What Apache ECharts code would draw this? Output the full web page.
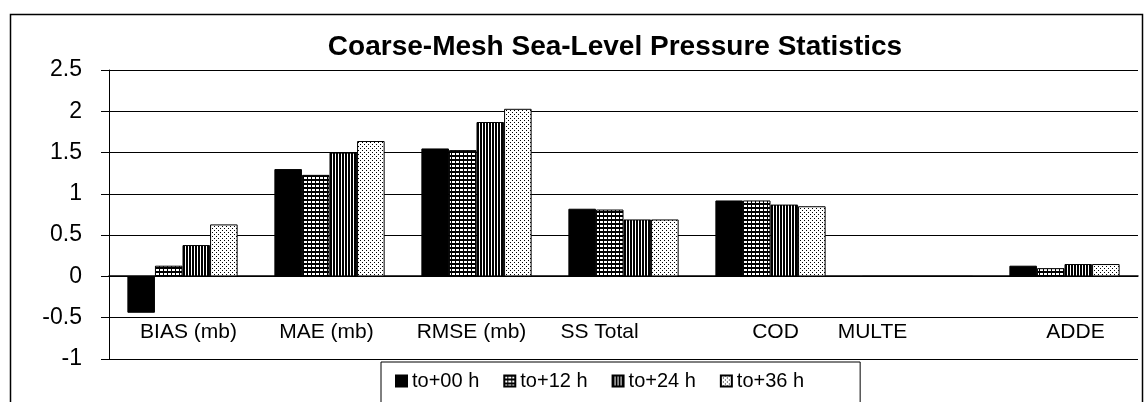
<!DOCTYPE html>
<html>
<head>
<meta charset="utf-8">
<script src="https://cdn.jsdelivr.net/npm/echarts@6/dist/echarts.min.js"></script>
<style>
  html, body { margin: 0; padding: 0; background: #fff; }
  #chart { width: 1144px; height: 402px; }
</style>
</head>
<body>
<div id="chart"></div>
<script>
// categories and series values
const categories = ['BIAS (mb)', 'MAE (mb)', 'RMSE (mb)', 'SS Total', 'COD', 'MULTE', 'ADDE']
const seriesNames = ['to+00 h', 'to+12 h', 'to+24 h', 'to+36 h']
const to00 = [-0.44, 1.30, 1.55, 0.82, 0.92, 0, 0.13]
const to12 = [0.13, 1.23, 1.53, 0.81, 0.92, 0, 0.10]
const to24 = [0.38, 1.50, 1.87, 0.69, 0.87, 0, 0.15]
const to36 = [0.63, 1.64, 2.03, 0.69, 0.85, 0, 0.15]
const yTicks = { min: -1, max: 2.5, interval: 0.5 }

// horizontal nudge of each category label (px), the scan has them off-centre
const labelShift = [6, -3, -5, -24, 5, -45, 11]

const FONT = '"Liberation Sans", Arial, sans-serif'

function tile(w, h, draw) {
  const c = document.createElement('canvas')
  c.width = w
  c.height = h
  draw(c.getContext('2d'))
  return { image: c, repeat: 'repeat' }
}

const fills = [
  '#000',
  tile(4, 4, (ctx) => {
    ctx.fillStyle = '#000'; ctx.fillRect(0, 0, 4, 4)
    ctx.fillStyle = '#fff'; ctx.fillRect(0, 1, 3, 2)
  }),
  tile(3, 1, (ctx) => {
    ctx.fillStyle = '#000'; ctx.fillRect(0, 0, 3, 1)
    ctx.fillStyle = '#fff'; ctx.fillRect(2, 0, 1, 1)
  }),
  tile(4, 4, (ctx) => {
    ctx.fillStyle = '#fff'; ctx.fillRect(0, 0, 4, 4)
    ctx.fillStyle = '#000'; ctx.fillRect(0, 0, 1, 1); ctx.fillRect(2, 2, 1, 1)
  }),
]

const rich = {}
labelShift.forEach((d, i) => {
  rich['s' + i] = {
    fontSize: 21, fontFamily: FONT, color: '#000',
    padding: [0, d < 0 ? -2 * d : 0, 0, d > 0 ? 2 * d : 0],
  }
})

const chart = echarts.init(document.getElementById('chart'))
chart.setOption({
  animation: false,
  backgroundColor: '#fff',
  title: {
    text: 'Coarse-Mesh Sea-Level Pressure Statistics',
    left: 615,
    top: 33,
    padding: 0,
    textAlign: 'center',
    textStyle: { fontFamily: FONT, fontSize: 28, fontWeight: 'bold', color: '#000' },
  },
  graphic: [{
    type: 'rect',
    left: 8, top: 12,
    shape: { width: 1132, height: 420 },
    style: { fill: 'none', stroke: '#000', lineWidth: 1.5 },
    silent: true,
  }],
  legend: {
    left: 381,
    top: 362,
    data: seriesNames,
    icon: 'rect',
    itemWidth: 11,
    itemHeight: 11,
    itemGap: 24,
    padding: [9, 56, 14, 14],
    borderColor: '#000',
    borderWidth: 1,
    textStyle: { fontFamily: FONT, fontSize: 20, color: '#000' },
  },
  grid: { left: 109, right: 6, top: 70, bottom: 43 },
  xAxis: {
    type: 'category',
    data: categories,
    // axis line on the zero line (83px above the grid bottom), labels low in the plot
    offset: -83,
    axisLine: { onZero: false, lineStyle: { color: '#000', width: 1.5 } },
    axisTick: { show: false },
    axisLabel: {
      margin: 46,
      interval: 0,
      formatter: (v, i) => '{s' + i + '|' + v + '}',
      rich,
    },
  },
  yAxis: {
    type: 'value',
    min: yTicks.min,
    max: yTicks.max,
    interval: yTicks.interval,
    axisLine: { show: true, lineStyle: { color: '#000', width: 1 } },
    axisTick: { show: true, length: 8, lineStyle: { color: '#000' } },
    axisLabel: { margin: 27, fontFamily: FONT, fontSize: 23, color: '#000' },
    splitLine: { lineStyle: { color: '#000', width: 1.2 } },
  },
  series: [to00, to12, to24, to36].map((data, i) => ({
    name: seriesNames[i],
    type: 'bar',
    data,
    barGap: '0%',
    barCategoryGap: '25%',
    itemStyle: { color: fills[i], borderColor: '#000', borderWidth: 1 },
  })),
})
</script>
</body>
</html>
